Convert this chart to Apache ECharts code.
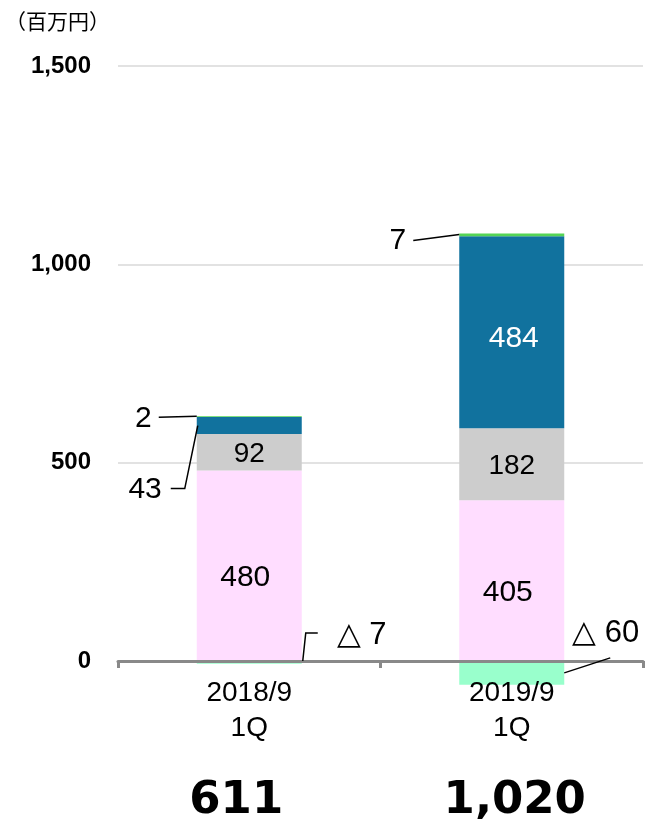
<!DOCTYPE html>
<html><head><meta charset="utf-8">
<script src="https://cdn.jsdelivr.net/npm/echarts@6/dist/echarts.min.js"></script>
<style>html,body{margin:0;padding:0;background:#fff}#c{width:654px;height:826px}</style>
</head><body><div id="c"></div>
<script>
// ---- data ----
const categories = ['2018/9\n1Q', '2019/9\n1Q'];
const pinkValues = [480, 405];
const grayValues = [92, 182];
const blueValues = [43, 484];
const greenValues = [2, 7];
const negativeValues = [-7, -60];
const totalLabels = ['611', '1,020'];
const calloutTop = ['2', '7'];
const calloutBlue2018 = '43';
const calloutNegative = ['△ 7', '△ 60'];
const unitLabel = '（百万円）';
const yMin = 0, yMax = 1500, yStep = 500;

const FONT = '"Liberation Sans", Arial, sans-serif';
const chart = echarts.init(document.getElementById('c'), null, {renderer: 'canvas'});

function bar(name, data, color, label) {
  return {
    name, type: 'bar', stack: 'total', data, barWidth: '40%', clip: false,
    itemStyle: {color},
    label: label || {show: false},
    emphasis: {disabled: true}
  };
}

chart.setOption({
  animation: false,
  grid: {left: 118, right: 11, top: 66, bottom: 165, outerBoundsMode: 'none', containLabel: false},
  xAxis: {
    type: 'category', data: categories, z: 10,
    axisLine: {show: true, lineStyle: {color: '#898989', width: 3}},
    axisTick: {show: true, length: 7, lineStyle: {color: '#898989', width: 3}},
    axisLabel: {color: '#000', fontFamily: FONT, fontSize: 28, lineHeight: 35, margin: 15}
  },
  yAxis: {
    type: 'value', min: yMin, max: yMax, interval: yStep,
    axisLine: {show: false}, axisTick: {show: false},
    splitLine: {lineStyle: {color: '#D9D9D9', width: 1.5}},
    axisLabel: {
      color: '#000', fontFamily: FONT, fontWeight: 'bold', fontSize: 24, margin: 27,
      formatter: v => v.toLocaleString('en-US')
    }
  },
  series: [
    bar('pink', pinkValues, '#FFDDFF', {show: true, position: 'inside', offset: [-4, 12], color: '#000', fontFamily: FONT, fontSize: 30}),
    bar('gray', grayValues, '#CDCDCD', {show: true, position: 'inside', offset: [0, 2], color: '#000', fontFamily: FONT, fontSize: 28}),
    bar('blue', blueValues.map((v, i) => ({value: v, label: {show: i === 1}})), '#11729E',
        {show: true, position: 'inside', offset: [2, 7], color: '#fff', fontFamily: FONT, fontSize: 30}),
    bar('green', greenValues, '#55D455'),
    bar('neg', negativeValues, '#99FFCC')
  ]
});

// ---- callouts & totals, anchored through the axis scales ----
const px = (i, v) => chart.convertToPixel({gridIndex: 0}, [i, v]);
const c0 = px(0, 0), c1 = px(1, 0);
const band = c1[0] - c0[0];
const bw = band * 0.4;
const txt = (text, x, y, align, size, weight, family) => ({
  type: 'text', silent: true, z: 100,
  style: {text, x, y, textAlign: align, textVerticalAlign: 'middle',
          font: (weight || 'normal') + ' ' + size + 'px ' + (family || FONT), fill: '#000'}
});
const line = (pts) => ({type: 'polyline', silent: true, z: 100, shape: {points: pts},
  style: {stroke: '#000', lineWidth: 1.5, fill: null}});

const g = [];
g.push(txt(unitLabel, 5, 21, 'left', 21, 'normal', '"Noto Sans CJK JP", sans-serif'));

// tops
[0, 1].forEach(i => {
  const top = pinkValues[i] + grayValues[i] + blueValues[i] + greenValues[i];
  const p = px(i, top);
  const left = p[0] - bw / 2;
  if (i === 0) {
    g.push(txt(calloutTop[0], left - 45, p[1] + 2, 'right', 30));
    g.push(line([[left - 38, p[1] + 1], [left, p[1]]]));
    const mid = px(0, pinkValues[0] + grayValues[0] + blueValues[0] / 2);
    g.push(txt(calloutBlue2018, left - 35, mid[1] + 64, 'right', 30));
    g.push(line([[left - 26, mid[1] + 63], [left - 12, mid[1] + 63], [left + 1, mid[1]]]));
  } else {
    g.push(txt(calloutTop[1], left - 53, p[1] + 7, 'right', 30));
    g.push(line([[left - 46, p[1] + 7], [left, p[1] + 1]]));
  }
});
// negatives
{
  const z = px(0, 0), right = z[0] + bw / 2;
  g.push(line([[right + 1, z[1]], [right + 4, z[1] - 28], [right + 16, z[1] - 28]]));
  g.push(txt(calloutNegative[0], right + 35, z[1] - 26, 'left', 31));
  const n = px(1, negativeValues[1] / 2), right1 = n[0] + bw / 2;
  g.push(line([[right1, n[1]], [right1 + 46, n[1] - 15]]));
  g.push(txt(calloutNegative[1], right1 + 8, z[1] - 28, 'left', 31));
}
// totals
g.push(txt(totalLabels[0], c0[0] - 13, 801, 'center', 45, 'bold', '"DejaVu Sans", sans-serif'));
g.push(txt(totalLabels[1], c1[0] + 3, 801, 'center', 45, 'bold', '"DejaVu Sans", sans-serif'));

chart.setOption({graphic: g});
</script></body></html>
